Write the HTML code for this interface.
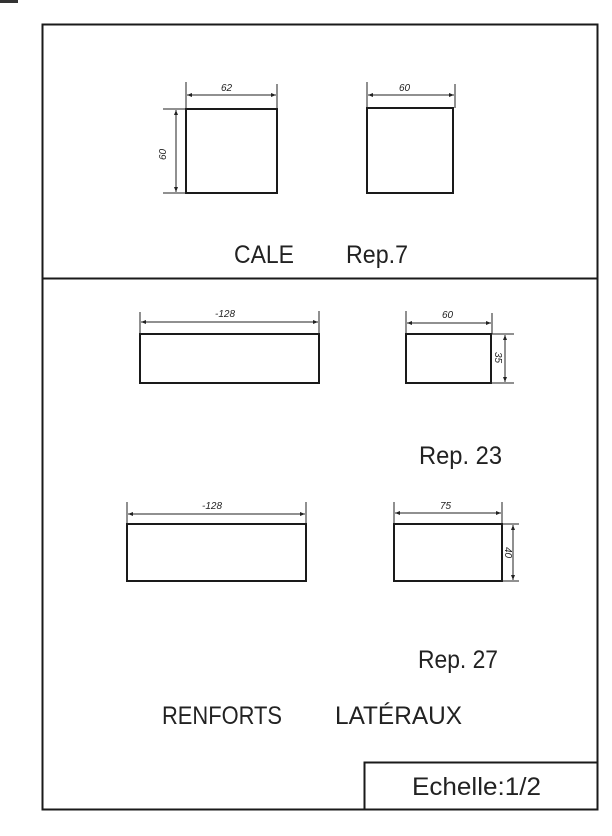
<!DOCTYPE html>
<html><head><meta charset="utf-8"><style>
html,body{margin:0;padding:0;background:#fff;}
svg{display:block;}
text{font-family:"Liberation Sans",sans-serif;fill:#222;}
.big{font-size:25px;}
.dim{font-size:10px;font-style:italic;}
</style></head><body>
<svg width="612" height="836" viewBox="0 0 612 836" xmlns="http://www.w3.org/2000/svg">
<defs>
<marker id="a" viewBox="0 0 10 10" refX="10" refY="5" markerWidth="7" markerHeight="5" orient="auto-start-reverse" markerUnits="userSpaceOnUse"><path d="M0,1 L10,5 L0,9z" fill="#222"/></marker>
</defs>
<rect x="0" y="0" width="18" height="3" fill="#333"/>
<g fill="none" stroke="#1a1a1a" stroke-width="2">
<rect x="42.5" y="24.5" width="555" height="785"/>
<line x1="42" y1="278.5" x2="598" y2="278.5"/>
<polyline points="364.5,810 364.5,762.5 598,762.5"/>
<!-- boxes -->
<rect x="186" y="109" width="91" height="84"/>
<rect x="367" y="108" width="86" height="85"/>
<rect x="140" y="334" width="179" height="49"/>
<rect x="406" y="334" width="85" height="49"/>
<rect x="127" y="524" width="179" height="57"/>
<rect x="394" y="524" width="108" height="57"/>
</g>
<g fill="none" stroke="#222" stroke-width="1">
<!-- box1 -->
<line x1="186" y1="82" x2="186" y2="109"/><line x1="277" y1="84" x2="277" y2="109"/>
<line x1="187" y1="95" x2="276" y2="95" marker-start="url(#a)" marker-end="url(#a)"/>
<line x1="163" y1="109" x2="186" y2="109"/><line x1="163" y1="193" x2="186" y2="193"/>
<line x1="176" y1="110" x2="176" y2="192" marker-start="url(#a)" marker-end="url(#a)"/>
<!-- box2 -->
<line x1="367" y1="82" x2="367" y2="108"/><line x1="455" y1="84" x2="455" y2="108"/>
<line x1="368" y1="95" x2="454" y2="95" marker-start="url(#a)" marker-end="url(#a)"/>
<!-- box3 -->
<line x1="140" y1="312" x2="140" y2="334"/><line x1="319" y1="311" x2="319" y2="334"/>
<line x1="141" y1="322" x2="318" y2="322" marker-start="url(#a)" marker-end="url(#a)"/>
<!-- box4 -->
<line x1="406" y1="311" x2="406" y2="334"/><line x1="492" y1="313" x2="492" y2="334"/>
<line x1="407" y1="323" x2="491" y2="323" marker-start="url(#a)" marker-end="url(#a)"/>
<line x1="491" y1="334" x2="514" y2="334"/><line x1="491" y1="383" x2="514" y2="383"/>
<line x1="505" y1="335" x2="505" y2="382" marker-start="url(#a)" marker-end="url(#a)"/>
<!-- box5 -->
<line x1="127" y1="502" x2="127" y2="524"/><line x1="306" y1="502" x2="306" y2="524"/>
<line x1="128" y1="514" x2="305" y2="514" marker-start="url(#a)" marker-end="url(#a)"/>
<!-- box6 -->
<line x1="394" y1="502" x2="394" y2="524"/><line x1="502" y1="502" x2="502" y2="524"/>
<line x1="395" y1="513" x2="501" y2="513" marker-start="url(#a)" marker-end="url(#a)"/>
<line x1="502" y1="524" x2="519" y2="524"/><line x1="502" y1="581" x2="519" y2="581"/>
<line x1="513" y1="525" x2="513" y2="580" marker-start="url(#a)" marker-end="url(#a)"/>
</g>
<text class="dim" x="221" y="91">62</text>
<text class="dim" x="399" y="91">60</text>
<text class="dim" transform="translate(166,160) rotate(-90)">60</text>
<text class="dim" x="215" y="317">-128</text>
<text class="dim" x="442" y="318">60</text>
<text class="dim" transform="translate(495,352) rotate(90)">35</text>
<text class="dim" x="202" y="509">-128</text>
<text class="dim" x="440" y="509">75</text>
<text class="dim" transform="translate(505,547) rotate(90)">40</text>
<text class="big" x="234" y="263" textLength="60" lengthAdjust="spacingAndGlyphs">CALE</text>
<text class="big" x="346" y="263" textLength="62" lengthAdjust="spacingAndGlyphs">Rep.7</text>
<text class="big" x="419" y="464" textLength="83" lengthAdjust="spacingAndGlyphs">Rep. 23</text>
<text class="big" x="418" y="668" textLength="80" lengthAdjust="spacingAndGlyphs">Rep. 27</text>
<text class="big" x="162" y="724" textLength="120" lengthAdjust="spacingAndGlyphs">RENFORTS</text>
<text class="big" x="335" y="724" textLength="127" lengthAdjust="spacingAndGlyphs">LATÉRAUX</text>
<text class="big" x="412" y="795" textLength="129" lengthAdjust="spacingAndGlyphs">Echelle:1/2</text>
</svg>
</body></html>
